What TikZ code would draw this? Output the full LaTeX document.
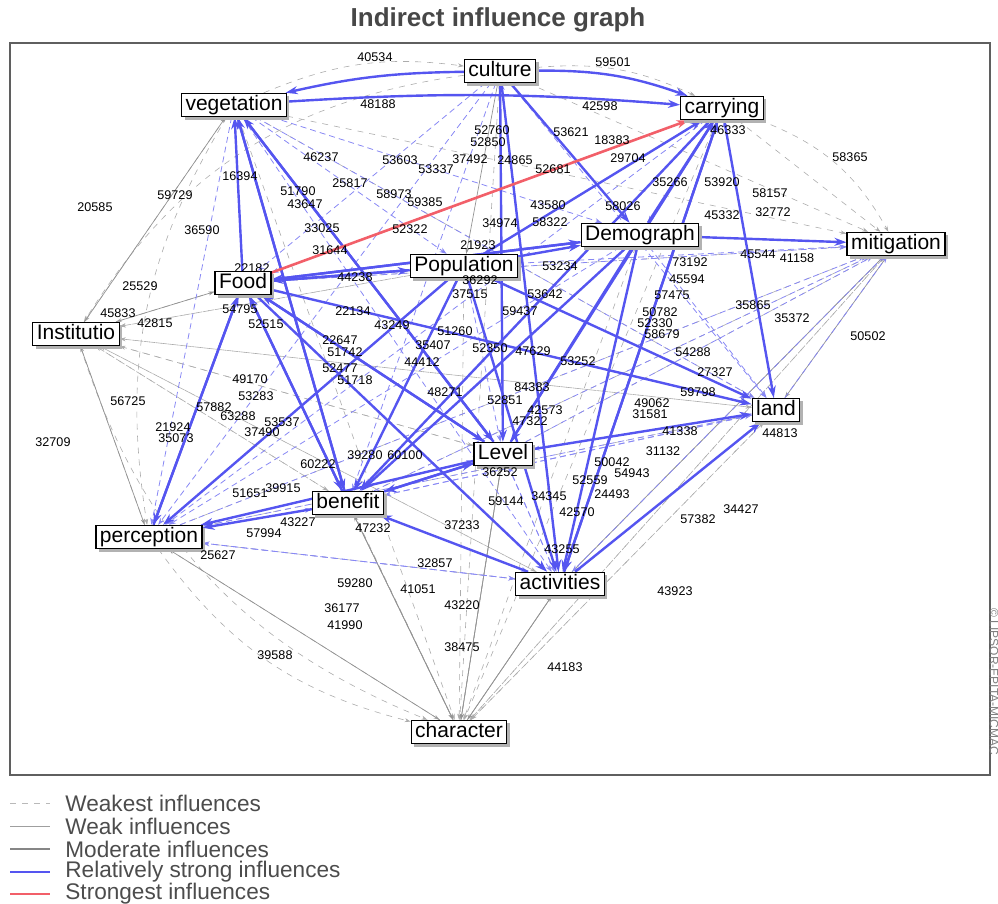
\documentclass[tikz,border=0pt]{standalone}
\usepackage{fontspec}
\setmainfont{Liberation Sans}
\usetikzlibrary{arrows.meta,shadows,backgrounds,positioning}

\definecolor{strongblue}{RGB}{85,85,240}
\definecolor{strongred}{RGB}{242,95,105}
\definecolor{framegray}{RGB}{95,95,95}

\tikzset{
  factor/.style={draw=black, fill=white, line width=0.6pt, font=\fontsize{10.5}{11}\selectfont,
    inner xsep=2pt, inner ysep=1pt, text height=7.6pt, text depth=2pt,
    drop shadow={shadow xshift=1.5pt, shadow yshift=-1.5pt, fill=gray!60, opacity=1}},
  score/.style={font=\fontsize{6.3}{7}\selectfont, inner sep=0pt},
  weakest/.style={draw=gray!65, line width=0.3pt, dashed, -{Stealth[length=3pt,width=2pt]}},
  weak/.style={draw=gray!85, line width=0.35pt, -{Stealth[length=3pt,width=2pt]}},
  moderate/.style={draw=strongblue!70, line width=0.4pt, densely dashed, -{Stealth[length=3.5pt,width=2.5pt]}},
  strong/.style={draw=strongblue, line width=1.2pt, -{Stealth[length=6pt,width=4pt]}},
  strongest/.style={draw=strongred, line width=1.3pt, -{Stealth[length=6pt,width=4pt]}},
}

\begin{document}
\begin{tikzpicture}[x=0.5pt,y=-0.5pt]
\useasboundingbox (0,0) rectangle (998,904);

% title and frame
\node[font=\fontsize{13}{15}\selectfont\bfseries, text=black!72] (title) at (498,20) {Indirect influence graph};
\draw[framegray, line width=1.1pt] (10,43) rectangle (990,775);
\node[rotate=-90, font=\fontsize{6}{7}\selectfont, text=gray] (copy) at (994,682) {\copyright\ LIPSOR-EPITA-MICMAC};

% factors
\node[factor] (cul) at (500,71) {culture};
\node[factor] (veg) at (234,105) {vegetation};
\node[factor] (car) at (722,108) {carrying};
\node[factor] (dem) at (640,235) {Demograph};
\node[factor] (mit) at (896,244) {mitigation};
\node[factor] (pop) at (464,266) {Population};
\node[factor] (foo) at (243,283) {Food};
\node[factor] (ins) at (76,334) {Institutio};
\node[factor] (lan) at (776,410) {land};
\node[factor] (lev) at (503,454) {Level};
\node[factor] (ben) at (348,503) {benefit};
\node[factor] (per) at (149,537) {perception};
\node[factor] (act) at (560,584) {activities};
\node[factor] (cha) at (459,732) {character};

\begin{scope}[on background layer]
% weakest influences
\foreach \a/\b in {veg/ins, foo/ins, pop/ins, ben/ins, lev/ins, dem/ins, lan/ins, act/ins, per/ins,
    per/cha, ben/cha, lev/cha, foo/cha, veg/cha, pop/cha, dem/cha, car/cha, lan/cha, mit/cha,
    cha/mit, cha/lan, act/mit, per/mit, ben/mit, foo/mit, veg/mit, lev/mit, car/mit, cul/mit,
    ins/lan, per/lan, ins/ben, ins/lev, ins/act, per/act, cul/cha, veg/lan}
  \draw[weakest] (\a) -- (\b);
\draw[weakest] (veg) to[bend left=15] (cul);
\draw[weakest] (cul) to[bend left=15] (car);
\draw[weakest] (ins) to[bend right=25] (cha);
\draw[weakest] (veg) to[bend right=20] (per);
\draw[weakest] (per) to[bend right=20] (cha);
\draw[weakest] (cul) to[bend right=25] (ins);
\draw[weakest] (car) to[bend left=20] (mit);
% weak influences
\foreach \a/\b in {ins/foo, ins/veg, ins/per, cha/act, act/cha, cha/lev, cha/ben, cha/per,
    lan/act, mit/lan, cul/pop, act/mit, lev/cha, ben/cha}
  \draw[weak] (\a) -- (\b);
% moderate influences
\foreach \a/\b in {veg/dem, veg/pop, veg/act, veg/per, cul/lan, cul/ben, cul/per,
    cul/foo, car/dem, car/lev, car/per, car/pop, car/foo, dem/lan, dem/per,
    pop/mit, pop/lev, lev/act, ben/act, ben/lan, ben/lev, per/lev, per/ben, per/act,
    act/per, act/lev, lan/mit, lan/lev, lan/ben, lan/per, lan/car, mit/act, act/cul,
    foo/mit, lev/mit, ben/mit, per/mit, veg/lan}
  \draw[moderate] (\a) -- (\b);
% relatively strong influences
\foreach \a/\b in {foo/veg, ben/veg, lev/veg, pop/foo, dem/foo, ben/foo, per/foo, lev/foo,
    foo/pop, foo/dem, foo/lev, foo/ben, foo/per, foo/lan, veg/ben, veg/lev, pop/car, dem/car,
    lev/car, act/car, dem/mit, car/lan, pop/lan, lev/lan, act/lan, lev/ben, act/ben, pop/ben,
    dem/ben, ben/per, lev/per, dem/act, pop/act, cul/act, ben/lev, pop/dem, cul/lev, car/act,
    foo/act, pop/per, dem/lev, car/ben, cul/dem}
  \draw[strong] (\a) -- (\b);
\draw[strong] (cul) to[bend right=6] (veg);
\draw[strong] (cul) to[bend left=10] (car);
\draw[strong] (veg) to[bend left=4] (car);
% strongest influence
\draw[strongest] (foo) -- (car);
\end{scope}

% influence scores
\foreach \x/\y/\t [count=\i] in {375/57/40534, 613/62/59501, 378/104/48188, 600/106/42598,
    571/132/53621, 612/140/18383, 728/130/46333, 628/158/29704, 850/157/58365, 492/130/52760,
    488/142/52850, 400/160/53603, 436/169/53337, 470/159/37492, 515/160/24865, 553/169/52681,
    321/157/46237, 240/176/16394, 298/191/51790, 305/204/43647, 350/183/25817, 394/194/58973,
    425/202/59385, 175/195/59729, 95/207/20585, 670/182/35266, 722/182/53920, 770/193/58157,
    773/212/32772, 548/205/43580, 550/222/58322, 623/206/58026, 202/230/36590, 322/228/33025,
    410/229/52322, 500/223/34974, 722/215/45332, 478/245/21923, 330/250/31644, 140/286/25529,
    252/268/22182, 355/277/44238, 118/313/45833, 155/323/42815, 240/309/54795, 266/324/52515,
    353/311/22134, 392/325/43249, 560/266/53234, 690/262/73192, 687/279/45594, 672/295/57475,
    758/254/45544, 797/258/41158, 545/294/53642, 520/311/59437, 660/312/50782, 655/323/52330,
    662/334/58679, 753/305/35865, 792/318/35372, 868/336/50502, 693/352/54288, 715/372/27327,
    533/351/47629, 578/361/53252, 250/379/49170, 256/396/53283, 214/407/57882, 238/416/63288,
    282/422/53537, 262/432/37490, 128/401/56725, 173/427/21924, 176/438/35073, 53/442/32709,
    532/387/84383, 698/392/59798, 652/403/49062, 650/414/31581, 680/431/41338, 780/433/44813,
    663/451/31132, 612/462/50042, 590/480/52559, 632/473/54943, 612/494/24493, 549/496/34345,
    506/501/59144, 577/512/42570, 698/519/57382, 741/509/34427, 318/464/60222, 365/455/39280,
    405/455/60100, 250/493/51651, 283/488/39915, 298/522/43227, 264/533/57994, 373/528/47232,
    218/555/25627, 435/563/32857, 355/583/59280, 418/589/41051, 462/605/43220, 342/608/36177,
    345/625/41990, 462/647/38475, 275/655/39588, 675/591/43923, 565/667/44183, 562/549/43255,
    462/525/37233, 500/472/36252, 445/392/48271, 422/362/44412, 340/340/22647, 345/352/51742,
    433/345/35407, 455/331/51260, 490/348/52350, 480/280/36292, 470/294/37515, 505/400/52851,
    545/410/42573, 530/421/47322, 355/380/51718, 340/368/52477}
  \node[score] (s\i) at (\x,\y) {\t};

% legend
\draw[gray!55, dashed, line width=0.4pt] (10,803) -- (50,803);
\draw[gray!75, line width=0.5pt] (10,826) -- (50,826);
\draw[gray!95, line width=0.6pt] (10,849) -- (50,849);
\draw[strongblue, line width=1.4pt] (10,872) -- (50,872);
\draw[strongred, line width=1.4pt] (10,894) -- (50,894);
\foreach \y/\t [count=\i] in {803/Weakest influences, 826/Weak influences, 849/Moderate influences,
    872/Relatively strong influences, 894/Strongest influences}
  \node[anchor=west, inner sep=0pt, font=\fontsize{11.3}{12}\selectfont, text=black!70] (key\i) at (65,\y) {\t};
\end{tikzpicture}
\end{document}
